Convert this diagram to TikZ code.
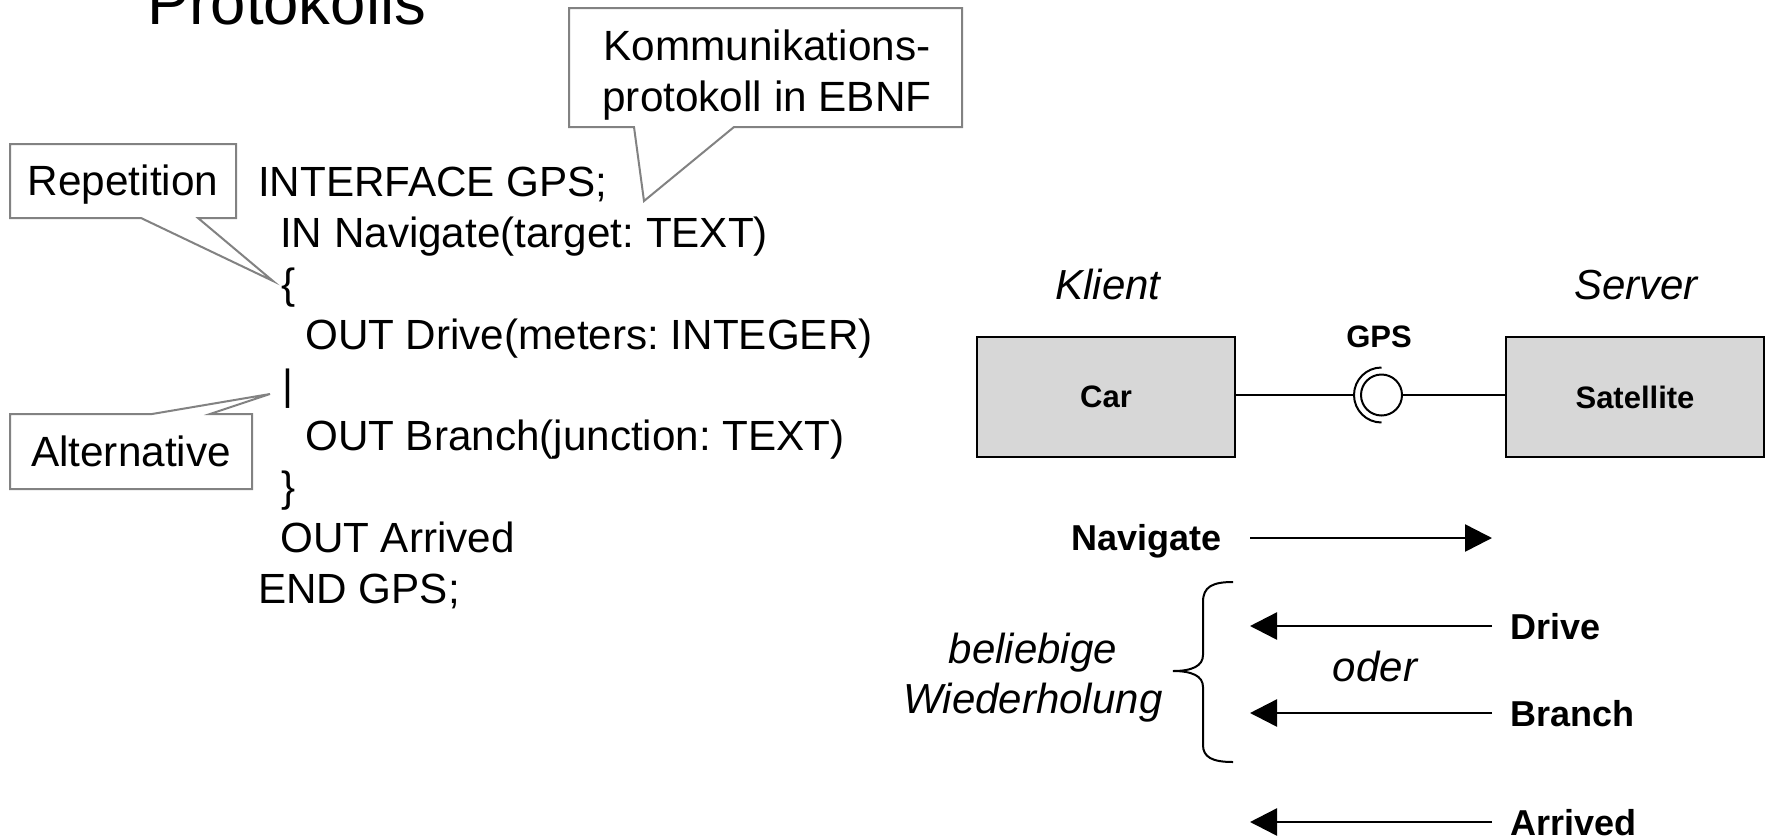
\documentclass[tikz,border=0pt]{standalone}
\usepackage{fontspec}
\setmainfont{Liberation Sans}
\usetikzlibrary{arrows.meta}
\definecolor{calloutgray}{RGB}{130,130,130}
\definecolor{boxfill}{RGB}{215,215,215}

\begin{document}
\frenchspacing
\begin{tikzpicture}[x=1pt,y=-1pt,
  code/.style={anchor=base west, inner sep=0pt, font=\fontsize{42.2}{51}\selectfont},
  calloutline/.style={draw=calloutgray, fill=white, line width=2pt, line join=miter},
  callouttext/.style={anchor=base, inner sep=0pt, font=\fontsize{42.3}{51}\selectfont},
  compbox/.style={draw=black, fill=boxfill, line width=2.2pt, minimum width=258pt,
    minimum height=120pt, inner sep=0pt, font=\fontsize{31}{36}\selectfont\bfseries},
  rolelabel/.style={anchor=base, inner sep=0pt, font=\fontsize{42}{50}\selectfont\itshape},
  msglabel/.style={inner sep=0pt, font=\fontsize{36}{42}\selectfont\bfseries},
  wire/.style={line width=2pt},
  msg/.style={line width=2.5pt, -{Triangle[length=27pt,width=27pt]}},
]
\useasboundingbox (0,0) rectangle (1765,839);

% heading, cut at the top edge
\node[anchor=base west, inner sep=0pt, font=\fontsize{63.5}{70}\selectfont] (title) at (147,24) {Protokolls};

% EBNF interface description
\node[code] (l1) at (258,196) {INTERFACE GPS;};
\node[code] (l2) at (280,247) {IN Navigate(target: TEXT)};
\node[code] (l3) at (281,298) {\{};
\node[code] (l4) at (305,349) {OUT Drive(meters: INTEGER)};
\node[code] (l5) at (282,399) {|};
\node[code] (l6) at (305,450) {OUT Branch(junction: TEXT)};
\node[code] (l7) at (281,501) {\}};
\node[code] (l8) at (280,552) {OUT Arrived};
\node[code] (l9) at (258,603) {END GPS;};

% callouts
\draw[calloutline] (569,8) -- (962,8) -- (962,127) -- (734,127) -- (644,201)
  -- (634,127) -- (569,127) -- cycle;
\node[callouttext] (kom1) at (767,60) {Kommunikations-};
\node[callouttext] (kom2) at (767,111) {protokoll in EBNF};

\draw[calloutline] (10,144) -- (236,144) -- (236,218) -- (198,218) -- (273,281)
  -- (141,218) -- (10,218) -- cycle;
\node[callouttext] (rep) at (123,195) {Repetition};

\draw[calloutline] (10,414) -- (152,414) -- (270,394) -- (210,414) -- (252,414)
  -- (252,489) -- (10,489) -- cycle;
\node[callouttext] (alt) at (131,466) {Alternative};

% components and the GPS interface
\node[rolelabel] (klient) at (1108,299) {Klient};
\node[rolelabel] (server) at (1636,299) {Server};

\node[compbox] (car) at (1106,397) {Car};
\node[compbox] (sat) at (1635,397) {Satellite};

\coordinate (iface) at (1381.5,395);
\node[anchor=base, inner sep=0pt, font=\fontsize{31}{36}\selectfont\bfseries] (gps) at (1379,347) {GPS};
\node[draw, circle, line width=2pt, minimum size=41pt, inner sep=0pt] (ball) at (iface) {};
\draw[wire] (iface) ++(0,-27.5) arc[start angle=270, end angle=90, radius=27.5];
\coordinate (sock) at (1354,395);
\draw[wire] (car.east |- iface) -- (sock);
\draw[wire] (ball.east) -- (sat.west |- iface);

% message sequence
\coordinate (navL) at (1250,538);
\coordinate (navR) at (1492,538);
\node[msglabel, anchor=base east] (nav) at (1222,550) {Navigate};
\draw[msg] (navL) -- (navR);

\coordinate (drvL) at (1250,626);
\coordinate (drvR) at (1492,626);
\node[msglabel, anchor=base west] (drive) at (1510,639) {Drive};
\draw[msg] (drvR) -- (drvL);

\node[anchor=base, inner sep=0pt, font=\fontsize{42}{50}\selectfont\itshape] (oder) at (1375,681) {oder};

\coordinate (brL) at (1250,713);
\coordinate (brR) at (1492,713);
\node[msglabel, anchor=base west] (branch) at (1510,726) {Branch};
\draw[msg] (brR) -- (brL);

\coordinate (arL) at (1250,822);
\coordinate (arR) at (1492,822);
\node[msglabel, anchor=base west] (arrived) at (1510,835) {Arrived};
\draw[msg] (arR) -- (arL);

% brace grouping the repeated alternatives
\draw[line width=2pt] (1233,582) .. controls (1212,582) and (1203,587) .. (1203,602)
  -- (1203,655) .. controls (1203,666) and (1192,671) .. (1173,671)
  .. controls (1192,671) and (1203,676) .. (1203,687)
  -- (1203,745) .. controls (1203,757) and (1212,762) .. (1233,762);
\node[rolelabel] (rep1) at (1033,663) {beliebige};
\node[rolelabel] (rep2) at (1033,713) {Wiederholung};
\end{tikzpicture}
\end{document}
